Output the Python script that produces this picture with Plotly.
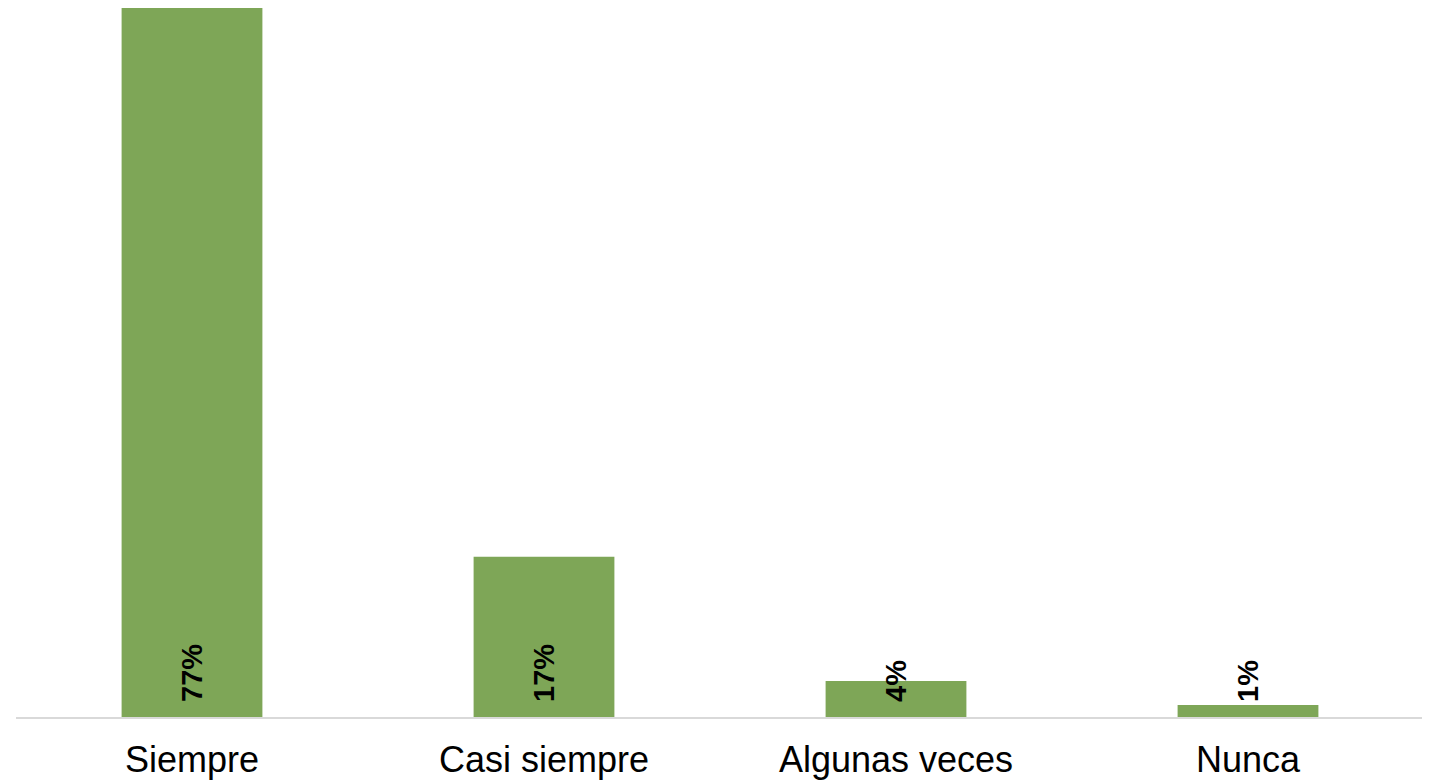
import plotly.graph_objects as go

categories = ["Siempre", "Casi siempre", "Algunas veces", "Nunca"]
values = [77.0, 17.4, 3.9, 1.3]
labels = [f"{v:.0f}%" for v in values]

fig = go.Figure()
fig.add_trace(go.Bar(
    x=categories, y=values,
    marker=dict(color="#7EA657", line=dict(width=0)),
    hoverinfo="skip",
))

for c, t in zip(categories, labels):
    fig.add_annotation(
        x=c, y=0, text=f"<b>{t}</b>", textangle=-90,
        showarrow=False, xanchor="center", yanchor="bottom", yshift=13,
        font=dict(family="Liberation Sans, Arial, sans-serif", size=29, color="black"),
    )

fig.update_layout(
    width=1422, height=775,
    margin=dict(l=8, r=6, t=0, b=66),
    paper_bgcolor="white", plot_bgcolor="white",
    bargap=0.6,
    showlegend=False,
    xaxis=dict(
        showline=True, linecolor="#d9d9d9", linewidth=2,
        showgrid=False, ticks="", ticklabelstandoff=10,
        tickfont=dict(family="Liberation Sans, Arial, sans-serif", size=36, color="black"),
    ),
    yaxis=dict(range=[0, 77], visible=False, showgrid=False, zeroline=False),
)

fig.write_html("out.html")
